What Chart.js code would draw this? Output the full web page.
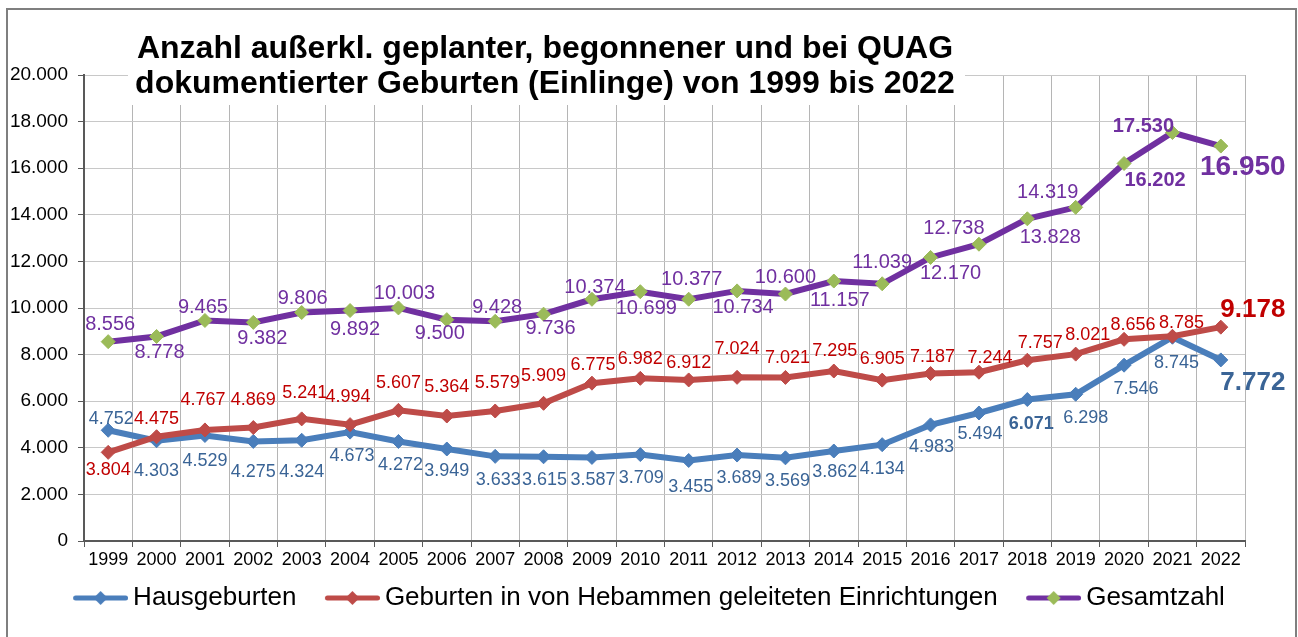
<!DOCTYPE html>
<html>
<head>
<meta charset="utf-8">
<script src="https://cdn.jsdelivr.net/npm/chart.js@4/dist/chart.umd.min.js"></script>
<style>
  html, body { margin: 0; padding: 0; background: #fff; }
  #wrap { position: relative; width: 1298px; height: 637px; }
</style>
</head>
<body>
<div id="wrap"><canvas id="chart" width="1298" height="637"></canvas></div>
<script>
const Years = ['1999', '2000', '2001', '2002', '2003', '2004', '2005', '2006', '2007', '2008', '2009', '2010',
    '2011', '2012', '2013', '2014', '2015', '2016', '2017', '2018', '2019', '2020', '2021', '2022'];
const Hausgeburten = [4752, 4303, 4529, 4275, 4324, 4673, 4272, 3949, 3633, 3615, 3587, 3709,
    3455, 3689, 3569, 3862, 4134, 4983, 5494, 6071, 6298, 7546, 8745, 7772];
const Hebammen = [3804, 4475, 4767, 4869, 5241, 4994, 5607, 5364, 5579, 5909, 6775, 6982,
    6912, 7024, 7021, 7295, 6905, 7187, 7244, 7757, 8021, 8656, 8785, 9178];
const Gesamtzahl = [8556, 8778, 9465, 9382, 9806, 9892, 10003, 9500, 9428, 9736, 10374, 10699,
    10377, 10734, 10600, 11157, 11039, 12170, 12738, 13828, 14319, 16202, 17530, 16950];
const Series_Names = ['Hausgeburten', 'Geburten in von Hebammen geleiteten Einrichtungen', 'Gesamtzahl'];
const Y_Ticks = [0, 2000, 4000, 6000, 8000, 10000, 12000, 14000, 16000, 18000, 20000];
const Title_Lines = ['Anzahl außerkl. geplanter, begonnener und bei QUAG',
    'dokumentierter Geburten (Einlinge) von 1999 bis 2022'];

// label offsets from the point, [dx, dy]
const Offsets_Blue = [[3, -11], [0, 30], [0, 26], [0, 31], [0, 32], [2, 24], [2, 24], [0, 22], [3, 24], [1, 23], [1, 23], [1, 23],
    [2, 27], [2, 23], [2, 23], [1, 21], [0, 24], [1, 22], [1, 21], [4, 24], [10, 24], [12, 24], [4, 26], [32, 23]];
const Offsets_Red = [[0, 18], [0, -18], [-2, -30], [0, -28], [3, -26], [-2, -28], [0, -27], [0, -29], [2, -28], [0, -27], [1, -18], [0, -19],
    [0, -17], [0, -28], [2, -19], [1, -20], [0, -21], [2, -17], [11, -14], [13, -17], [12, -19], [9, -14], [9, -13], [32, -17]];
const Offsets_Purple = [[2, -17], [3, 16], [-2, -13], [9, 16], [1, -14], [5, 19], [6, -14], [-7, 14], [2, -14], [7, 14], [3, -12], [6, 17],
    [3, -20], [6, 17], [0, -17], [6, 19], [0, -21], [20, 16], [-25, -16], [23, 19], [-28, -15], [31, 17], [-29, -6], [22, 21]];

const FONT = '"Liberation Sans", Arial, sans-serif';

function fmt(v) {
    return String(v).replace(/\B(?=(\d{3})+(?!\d))/g, '.');
}

function legendIcon(lineColor, markColor) {
    const c = document.createElement('canvas');
    c.width = 63; c.height = 20;
    const ctx = c.getContext('2d');
    ctx.strokeStyle = lineColor;
    ctx.lineWidth = 5;
    ctx.lineCap = 'round';
    ctx.beginPath();
    ctx.moveTo(10.5, 10); ctx.lineTo(60.5, 10);
    ctx.stroke();
    ctx.fillStyle = markColor;
    ctx.beginPath();
    ctx.moveTo(35.5, 3); ctx.lineTo(42.5, 10); ctx.lineTo(35.5, 17); ctx.lineTo(28.5, 10);
    ctx.closePath();
    ctx.fill();
    return c;
}

const Icons = [legendIcon('#4A7EBB', '#4A7EBB'), legendIcon('#BE4B48', '#BE4B48'), legendIcon('#7030A0', '#9BBB59')];

const labelSets = [
    { values: Hausgeburten, offsets: Offsets_Blue, color: '#3A6496', size: 18, special: { 19: 'bold 18px', 23: 'bold 26px' } },
    { values: Hebammen, offsets: Offsets_Red, color: '#C00000', size: 18, special: { 23: 'bold 26px' } },
    { values: Gesamtzahl, offsets: Offsets_Purple, color: '#7030A0', size: 20, special: { 21: 'bold 20px', 22: 'bold 20px', 23: 'bold 28px' } }
];

const framePlugin = {
    id: 'frame',
    beforeDraw(chart) {
        const ctx = chart.ctx;
        ctx.save();
        ctx.fillStyle = '#fff';
        ctx.fillRect(0, 0, chart.width, chart.height);
        ctx.strokeStyle = '#7f7f7f';
        ctx.lineWidth = 2;
        ctx.strokeRect(7, 9, 1289, 700);
        ctx.restore();
    }
};

const titlePlugin = {
    id: 'titleBox',
    beforeDatasetsDraw(chart) {
        const ctx = chart.ctx;
        ctx.save();
        ctx.fillStyle = '#fff';
        ctx.fillRect(128, 60, 837, 45);
        ctx.fillStyle = '#000';
        ctx.font = 'bold 32px ' + FONT;
        ctx.textAlign = 'center';
        ctx.textBaseline = 'alphabetic';
        ctx.fillText(Title_Lines[0], 545, 58);
        ctx.fillText(Title_Lines[1], 545, 93);
        ctx.restore();
    }
};

const labelPlugin = {
    id: 'pointLabels',
    afterDatasetsDraw(chart) {
        const ctx = chart.ctx;
        ctx.save();
        ctx.textAlign = 'center';
        ctx.textBaseline = 'middle';
        labelSets.forEach((set, di) => {
            const meta = chart.getDatasetMeta(di);
            meta.data.forEach((pt, i) => {
                const font = set.special[i] || ('normal ' + set.size + 'px');
                ctx.font = font + ' ' + FONT;
                ctx.fillStyle = set.color;
                ctx.fillText(fmt(set.values[i]), pt.x + set.offsets[i][0], pt.y + set.offsets[i][1]);
            });
        });
        ctx.restore();
    }
};

function dataset(label, data, line, mark, order) {
    return {
        label: label,
        data: data,
        borderColor: line,
        backgroundColor: line,
        borderWidth: 6,
        pointStyle: 'rectRot',
        pointRadius: 7,
        pointHoverRadius: 7,
        pointBackgroundColor: mark,
        pointBorderColor: mark,
        pointBorderWidth: 1,
        tension: 0,
        order: order
    };
}

new Chart(document.getElementById('chart'), {
    type: 'line',
    data: {
        labels: Years,
        datasets: [
            dataset(Series_Names[0], Hausgeburten, '#4A7EBB', '#4A7EBB', 2),
            dataset(Series_Names[1], Hebammen, '#BE4B48', '#BE4B48', 1),
            dataset(Series_Names[2], Gesamtzahl, '#7030A0', '#9BBB59', 0)
        ]
    },
    options: {
        responsive: false,
        animation: false,
        layout: { padding: { top: 75, left: 0, right: 0, bottom: 16 } },
        scales: {
            x: {
                offset: true,
                grid: { offset: true, color: '#b5b5b5', lineWidth: 1, tickLength: 6, tickColor: '#595959' },
                border: { color: '#595959', width: 2 },
                ticks: { color: '#000', font: { family: FONT, size: 18 }, padding: 2, maxRotation: 0, autoSkip: false },
                afterFit: (s) => { s.height = 30; }
            },
            y: {
                min: 0,
                max: 20000,
                afterBuildTicks: (s) => { s.ticks = Y_Ticks.map(v => ({ value: v })); },
                grid: { color: '#c8c8c8', lineWidth: 1, tickLength: 6, tickColor: '#595959' },
                border: { color: '#595959', width: 2 },
                ticks: { color: '#000', font: { family: FONT, size: 19 }, padding: 10, callback: (v) => fmt(v) },
                afterFit: (s) => { s.width = 84; }
            },
            yR: {
                position: 'right',
                grid: { display: false },
                border: { display: false },
                ticks: { display: false },
                afterFit: (s) => { s.width = 53; }
            }
        },
        plugins: {
            legend: {
                display: true,
                position: 'bottom',
                labels: {
                    usePointStyle: true,
                    pointStyleWidth: 47,
                    padding: 14,
                    color: '#000',
                    font: { family: FONT, size: 26 },
                    sort: (a, b) => a.datasetIndex - b.datasetIndex,
                    generateLabels: (chart) => {
                        const items = Chart.defaults.plugins.legend.labels.generateLabels(chart);
                        items.forEach(item => {
                            item.pointStyle = Icons[item.datasetIndex];
                            // a little air after the first two entries, as in the original
                            if (item.datasetIndex < 2) item.text = item.text + '  ';
                        });
                        return items;
                    }
                }
            },
            tooltip: { enabled: false }
        }
    },
    plugins: [framePlugin, titlePlugin, labelPlugin]
});
</script>
</body>
</html>
